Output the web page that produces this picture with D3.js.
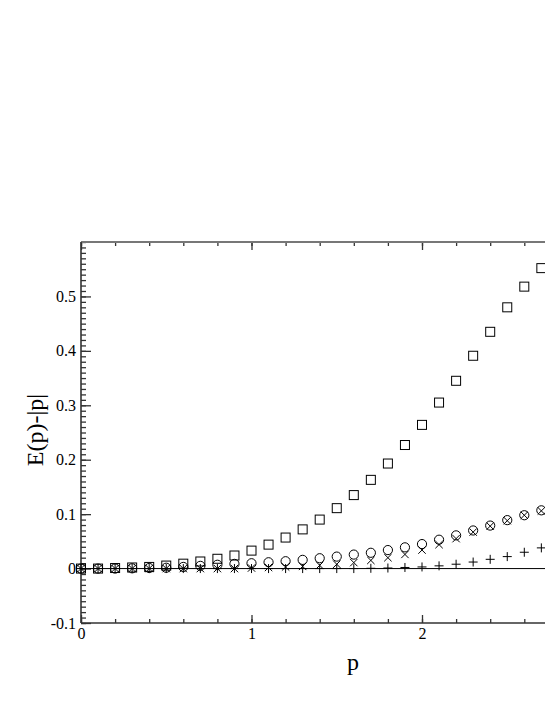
<!DOCTYPE html>
<html>
<head>
<meta charset="utf-8">
<script src="https://cdn.jsdelivr.net/npm/d3@7"></script>
<style>
  body { margin: 0; background: #fff; }
  svg { display: block; }
  svg text { font-family: "Liberation Serif", "Times New Roman", serif !important; fill: #000; }
</style>
</head>
<body>
<div id="chart"></div>
<script>
// p values (x categories)
const pValues = [0, 0.1, 0.2, 0.3, 0.4, 0.5, 0.6, 0.7, 0.8, 0.9, 1.0, 1.1, 1.2, 1.3,
  1.4, 1.5, 1.6, 1.7, 1.8, 1.9, 2.0, 2.1, 2.2, 2.3, 2.4, 2.5, 2.6, 2.7]

// E(p)-|p| for each series
const squareVals = [0, 0, 0.001, 0.002, 0.003, 0.0055, 0.009, 0.013, 0.018, 0.024,
  0.033, 0.044, 0.057, 0.072, 0.090, 0.111, 0.135, 0.163, 0.193, 0.227,
  0.264, 0.305, 0.345, 0.391, 0.435, 0.480, 0.518, 0.552]
const circleVals = [0, 0, 0, 0.0005, 0.001, 0.0015, 0.003, 0.005, 0.007, 0.0086,
  0.0098, 0.0116, 0.0135, 0.016, 0.019, 0.022, 0.0257, 0.029, 0.034, 0.039,
  0.045, 0.053, 0.061, 0.070, 0.079, 0.089, 0.098, 0.107]
const crossVals = [0, 0, 0, 0, 0, 0, 0, 0, 0, 0,
  0.001, 0.002, 0.003, 0.004, 0.006, 0.008, 0.011, 0.015, 0.020, 0.026,
  0.034, 0.044, 0.055, 0.067, 0.078, 0.088, 0.098, 0.106]
const plusVals = [0, 0, 0, 0, 0, 0, 0, 0, 0, 0,
  0, 0, 0, 0, 0, 0, 0, 0.0005, 0.001, 0.002,
  0.003, 0.005, 0.008, 0.012, 0.017, 0.022, 0.030, 0.038]

// tick labels
const xTickLabels = [0, 1, 2]
const yTickLabels = [-0.1, 0, 0.1, 0.2, 0.3, 0.4, 0.5]

const width = 545
const height = 705
const plotLeft = 81
const plotTop = 242
const plotBottom = 623
const serif = '"Liberation Serif", "Times New Roman", serif'

const svg = d3.select('#chart').append('svg')
  .attr('width', width)
  .attr('height', height)

const x = d3.scaleLinear().domain([0, 3]).range([plotLeft, plotLeft + 3 * 170.5])
const y = d3.scaleLinear().domain([-0.1, 0.6]).range([plotBottom, plotTop])

const axisColor = '#333'

// minor ticks
svg.append('g')
  .attr('transform', `translate(${plotLeft},0)`)
  .call(d3.axisLeft(y).tickValues(d3.range(-10, 61).map(d => d / 100)).tickSize(-5).tickFormat(''))
  .call(g => g.select('.domain').remove())
svg.append('g')
  .attr('transform', `translate(0,${plotBottom})`)
  .call(d3.axisBottom(x).tickValues(d3.range(0, 16).map(d => d / 5)).tickSize(-4).tickFormat(''))
  .call(g => g.select('.domain').remove())
svg.append('g')
  .attr('transform', `translate(0,${plotTop})`)
  .call(d3.axisTop(x).tickValues(d3.range(0, 16).map(d => d / 5)).tickSize(-4).tickFormat(''))
  .call(g => g.select('.domain').remove())

// major ticks + labels
svg.append('g')
  .attr('transform', `translate(${plotLeft},0)`)
  .call(d3.axisLeft(y).tickValues(yTickLabels).tickSize(-10).tickPadding(5).tickFormat(d => String(d)))
  .attr('font-family', serif)
  .attr('font-size', 16)
  .call(g => g.select('.domain').remove())

svg.append('g')
  .attr('transform', `translate(0,${plotBottom})`)
  .call(d3.axisBottom(x).tickValues(xTickLabels).tickSize(-8).tickPadding(5).tickFormat(d => String(d)))
  .attr('font-family', serif)
  .attr('font-size', 16)
  .call(g => g.select('.domain').remove())

svg.append('g')
  .attr('transform', `translate(0,${plotTop})`)
  .call(d3.axisTop(x).tickValues(xTickLabels).tickSize(-8).tickFormat(''))
  .call(g => g.select('.domain').remove())

svg.selectAll('.tick line').attr('stroke', axisColor).attr('stroke-width', 1.3)

// frame lines
svg.append('line')
  .attr('x1', plotLeft).attr('x2', width).attr('y1', plotTop).attr('y2', plotTop)
  .attr('stroke', '#777').attr('stroke-width', 2)
svg.append('line')
  .attr('x1', plotLeft).attr('x2', plotLeft).attr('y1', plotTop).attr('y2', plotBottom)
  .attr('stroke', axisColor).attr('stroke-width', 1.6)
svg.append('line')
  .attr('x1', plotLeft).attr('x2', width).attr('y1', plotBottom).attr('y2', plotBottom)
  .attr('stroke', axisColor).attr('stroke-width', 1.6)

// zero line
svg.append('line')
  .attr('x1', plotLeft).attr('x2', width).attr('y1', y(0)).attr('y2', y(0))
  .attr('stroke', '#000').attr('stroke-width', 1)

// markers
const marks = svg.append('g')
  .attr('fill', 'none')
  .attr('stroke', '#000')
  .attr('stroke-width', 1)

marks.selectAll('rect.sq')
  .data(pValues)
  .enter().append('rect')
  .attr('class', 'sq')
  .attr('x', d => x(d) - 4.5)
  .attr('y', (d, i) => y(squareVals[i]) - 4.5)
  .attr('width', 9)
  .attr('height', 9)

marks.selectAll('circle.ci')
  .data(pValues)
  .enter().append('circle')
  .attr('class', 'ci')
  .attr('cx', d => x(d))
  .attr('cy', (d, i) => y(circleVals[i]))
  .attr('r', 4.6)

marks.selectAll('path.cr')
  .data(pValues)
  .enter().append('path')
  .attr('class', 'cr')
  .attr('d', (d, i) => {
    const cx = x(d)
    const cy = y(crossVals[i])
    const s = 3.7
    return `M${cx - s},${cy - s}L${cx + s},${cy + s}M${cx - s},${cy + s}L${cx + s},${cy - s}`
  })

marks.selectAll('path.pl')
  .data(pValues)
  .enter().append('path')
  .attr('class', 'pl')
  .attr('d', (d, i) => {
    const cx = x(d)
    const cy = y(plusVals[i])
    const s = 4.5
    return `M${cx - s},${cy}L${cx + s},${cy}M${cx},${cy - s}L${cx},${cy + s}`
  })

// axis titles
svg.append('text')
  .attr('x', 353)
  .attr('y', 670)
  .attr('text-anchor', 'middle')
  .attr('font-family', serif)
  .attr('font-size', 24)
  .text('p')

svg.append('text')
  .attr('transform', 'translate(43,430) rotate(-90)')
  .attr('text-anchor', 'middle')
  .attr('font-family', serif)
  .attr('font-size', 24)
  .text('E(p)-|p|')
</script>
</body>
</html>
